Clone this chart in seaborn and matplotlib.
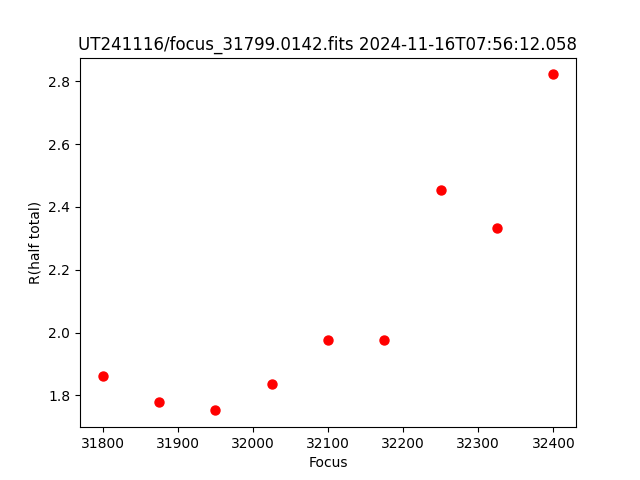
import matplotlib
matplotlib.use("Agg")
import matplotlib.pyplot as plt
import seaborn as sns
import pandas as pd

focus = [31800, 31875, 31950, 32025, 32100, 32175, 32250, 32325, 32400]
r_half = [1.860, 1.778, 1.752, 1.835, 1.975, 1.975, 2.453, 2.332, 2.822]
title = "UT241116/focus_31799.0142.fits 2024-11-16T07:56:12.058"

df = pd.DataFrame({"Focus": focus, "R": r_half})

fig, ax = plt.subplots(figsize=(6.4, 4.8), dpi=100)
sns.scatterplot(data=df, x="Focus", y="R", ax=ax, color="red", s=42,
                edgecolor="red", linewidth=1, marker="o", zorder=3)
ax.set_xlabel("Focus")
ax.set_ylabel("R(half total)")
ax.set_title(title)
fig.savefig("out.png", dpi=100)
